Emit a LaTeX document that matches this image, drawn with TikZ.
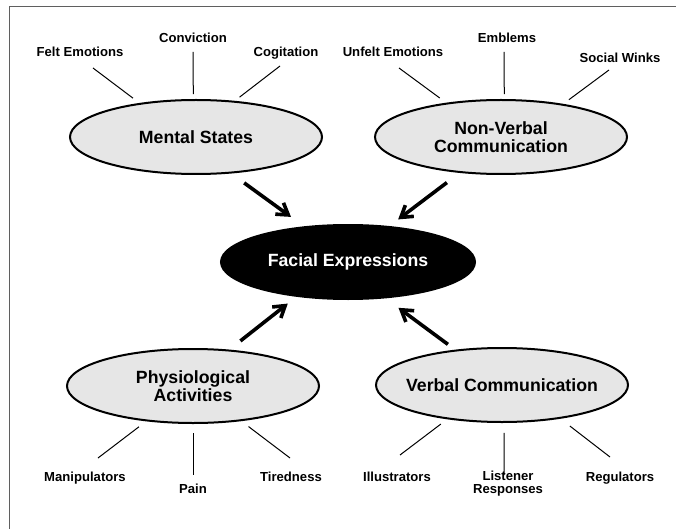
\documentclass[tikz,border=0pt]{standalone}
\usepackage{fontspec}
\setmainfont{Liberation Sans}
\usetikzlibrary{shapes.geometric, arrows.meta}
\definecolor{bubblegray}{RGB}{230,230,230}
\definecolor{framegray}{RGB}{95,95,95}

\begin{document}
\begin{tikzpicture}[x=1pt,y=-1pt,
    bubble/.style={ellipse, draw, line width=2pt, fill=bubblegray, minimum width=252pt, minimum height=74pt,
        inner xsep=-12pt, inner ysep=1pt, align=center, font=\bfseries\fontsize{17.7}{18.4}\selectfont},
    hub/.style={bubble, fill=black, text=white, minimum width=254pt},
    leaf/.style={anchor=base, align=center, inner sep=0pt, font=\bfseries\fontsize{13.1}{12.7}\selectfont},
    spoke/.style={line width=1pt},
    feed/.style={line width=3.6pt, -{Straight Barb[length=11pt,width=14pt]}}]
    \useasboundingbox (0,0) rectangle (676,529);
    \draw[line width=1.5pt, framegray] (9.5,529) |- (676,6.5);

    % the five bubbles
    \node[bubble] (mental) at (196,137) {Mental States};
    \node[bubble] (nonverbal) at (501,137) {Non-Verbal\\Communication};
    \node[hub] (facial) at (348,262) {Facial Expressions};
    \node[bubble] (physio) at (193,386) {Physiological\\Activities};
    \node[bubble] (verbal) at (502,385) {Verbal Communication};

    % leaves
    \node[leaf] (felt) at (80,57) {Felt Emotions};
    \node[leaf] (conviction) at (193,43) {Conviction};
    \node[leaf] (cogitation) at (286,57) {Cogitation};
    \node[leaf] (unfelt) at (393,57) {Unfelt Emotions};
    \node[leaf] (emblems) at (507,43) {Emblems};
    \node[leaf] (winks) at (620,62.5) {Social Winks};
    \node[leaf] (manipulators) at (85,481.5) {Manipulators};
    \node[leaf] (pain) at (193,493) {Pain};
    \node[leaf] (tiredness) at (291,481.5) {Tiredness};
    \node[leaf] (illustrators) at (397,481.5) {Illustrators};
    \node[leaf] (listener) at (508,493) {Listener\\Responses};
    \node[leaf] (regulators) at (620,481.5) {Regulators};

    % free ends of the spokes
    \coordinate (felt-end) at (93,68);
    \coordinate (conviction-end) at (193,52);
    \coordinate (cogitation-end) at (280,66);
    \coordinate (unfelt-end) at (399,68);
    \coordinate (emblems-end) at (504,52);
    \coordinate (winks-end) at (609,70);
    \coordinate (manipulators-end) at (98,458);
    \coordinate (pain-end) at (193,475);
    \coordinate (tiredness-end) at (290,458);
    \coordinate (illustrators-end) at (400,455);
    \coordinate (listener-end) at (504,475);
    \coordinate (regulators-end) at (610,457);

    \draw[spoke, shorten <=8pt] (mental.149) -- (felt-end);
    \draw[spoke, shorten <=5pt] (mental.94.5) -- (conviction-end);
    \draw[spoke, shorten <=6pt] (mental.43) -- (cogitation-end);
    \draw[spoke, shorten <=8pt] (nonverbal.148) -- (unfelt-end);
    \draw[spoke, shorten <=5pt] (nonverbal.85.5) -- (emblems-end);
    \draw[spoke, shorten <=7pt] (nonverbal.28) -- (winks-end);
    \draw[spoke, shorten <=9pt] (physio.-143.5) -- (manipulators-end);
    \draw[spoke, shorten <=9pt] (physio.-90) -- (pain-end);
    \draw[spoke, shorten <=9pt] (physio.-36.5) -- (tiredness-end);
    \draw[spoke, shorten <=8pt] (verbal.-148.5) -- (illustrators-end);
    \draw[spoke, shorten <=10pt] (verbal.-87) -- (listener-end);
    \draw[spoke, shorten <=12pt] (verbal.-30.5) -- (regulators-end);

    % arrows into the hub
    \path
    (mental.-46) edge [feed, shorten <=16pt, shorten >=16pt] (facial.141)
    (nonverbal.-139) edge [feed, shorten <=16pt, shorten >=11pt] (facial.41)
    (physio.45) edge [feed, shorten <=14pt, shorten >=11pt] (facial.-146)
    (verbal.143) edge [feed, shorten <=9pt, shorten >=16pt] (facial.-44)
    ;
\end{tikzpicture}
\end{document}
